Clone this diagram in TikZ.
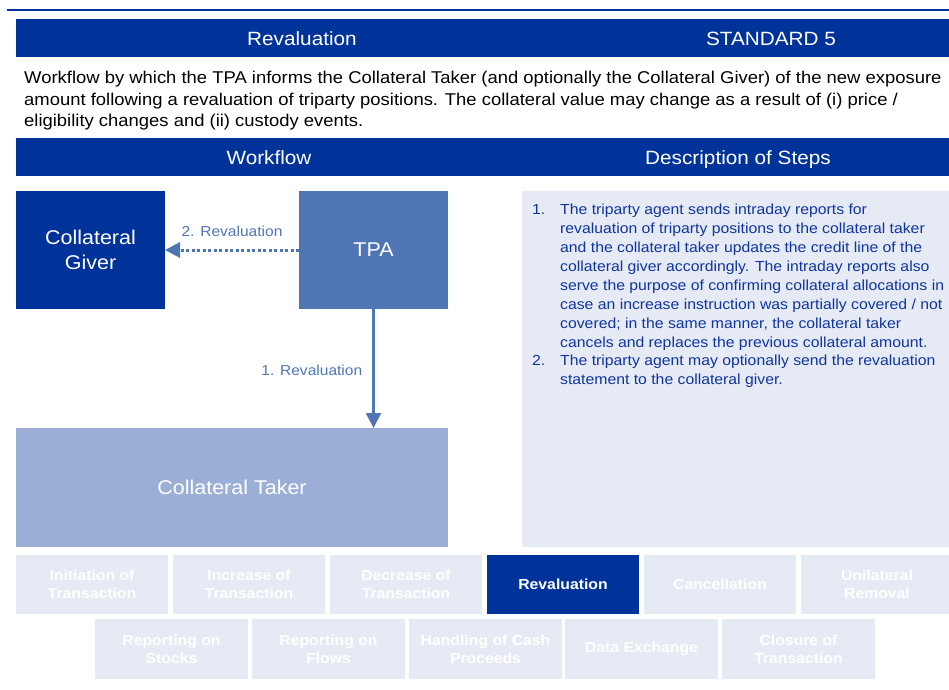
\documentclass[tikz,border=0pt]{standalone}
\usepackage{fontspec}
\setmainfont{Liberation Sans}[FakeStretch=1.08]
\usetikzlibrary{arrows.meta}
\definecolor{dkblue}{HTML}{003399}
\definecolor{midblue}{HTML}{4F75B5}
\definecolor{ltblue}{HTML}{9BAFD6}
\definecolor{paleblue}{HTML}{E5EAF4}
\definecolor{txtblue}{HTML}{1035A0}
\tikzset{
  bar/.style={fill=dkblue, draw=none, inner sep=0pt, outer sep=0pt, anchor=north west},
  bartext/.style={text=white, font=\fontsize{19.2}{22}\selectfont, inner sep=0pt, anchor=base},
  actor/.style={draw=none, inner sep=0pt, outer sep=0pt, anchor=north west, text=white, align=center, font=\fontsize{19.9}{25}\selectfont},
  flowlabel/.style={text=midblue, font=\fontsize{14.4}{17}\selectfont, inner sep=0pt},
  tab/.style={fill=paleblue, draw=none, inner sep=0pt, outer sep=0pt, anchor=north west, minimum width=152pt, minimum height=59pt, text=white, align=center, font=\bfseries\fontsize{14.6}{18}\selectfont},
  activetab/.style={tab, fill=dkblue},
  flowarrow/.style={draw=midblue, line width=2.5pt, -{Triangle[width=15pt,length=15pt]}},
}
\begin{document}
\begin{tikzpicture}[x=1pt,y=-1pt]
\useasboundingbox (0,0) rectangle (949,689);
% top rule
\coordinate (ruleL) at (7,10);
\coordinate (ruleR) at (949,10);
\draw[dkblue, line width=2.2pt] (ruleL) -- (ruleR);
% header bars
\node[bar, minimum width=933pt, minimum height=38pt] (hdr1) at (16,19) {};
\node[bartext] (hdr1a) at (302,45) {Revaluation};
\node[bartext] (hdr1b) at (771,45) {STANDARD 5};
\node[anchor=west, inner sep=0pt, align=left, font=\fontsize{17.07}{21.5}\selectfont] (intro) at (24,101)
 {Workflow by which the TPA informs the Collateral Taker (and optionally the Collateral Giver) of the new exposure\\
  amount following a revaluation of triparty positions. The collateral value may change as a result of (i) price /\\
  eligibility changes and (ii) custody events.};
\node[bar, minimum width=933pt, minimum height=38pt] (hdr2) at (16,138) {};
\node[bartext] (hdr2a) at (269,164) {Workflow};
\node[bartext] (hdr2b) at (738,164) {Description of Steps};
% actors
\node[actor, fill=dkblue, minimum width=149pt, minimum height=118pt] (giver) at (16,191) {Collateral\\Giver};
\node[actor, fill=midblue, minimum width=149pt, minimum height=118pt] (tpa) at (299,191) {TPA};
\node[actor, fill=ltblue, minimum width=432pt, minimum height=119pt] (taker) at (16,428) {Collateral Taker};
% arrows
\draw[flowarrow, line width=3pt, dash pattern=on 3pt off 2.5pt] (tpa.west) -- (giver.east)
  node[flowlabel, midway, yshift=19pt] (lab2) {2. Revaluation};
\draw[flowarrow] (tpa.south) -- (tpa.south |- taker.north)
  node[flowlabel, midway, anchor=east, xshift=-10pt, yshift=-2pt] (lab1) {1. Revaluation};
% description
\node[fill=paleblue, inner sep=0pt, outer sep=0pt, anchor=north west, minimum width=427pt, minimum height=356pt] (descbox) at (522,191) {};
\node[anchor=north west, inner sep=0pt, align=left, text=txtblue, font=\fontsize{14.6}{18.9}\selectfont] (desc) at (532,204)
 {\makebox[28pt][l]{1.}The triparty agent sends intraday reports for\\
  \hspace*{28pt}revaluation of triparty positions to the collateral taker\\
  \hspace*{28pt}and the collateral taker updates the credit line of the\\
  \hspace*{28pt}collateral giver accordingly. The intraday reports also\\
  \hspace*{28pt}serve the purpose of confirming collateral allocations in\\
  \hspace*{28pt}case an increase instruction was partially covered / not\\
  \hspace*{28pt}covered; in the same manner, the collateral taker\\
  \hspace*{28pt}cancels and replaces the previous collateral amount.\\
  \makebox[28pt][l]{2.}The triparty agent may optionally send the revaluation\\
  \hspace*{28pt}statement to the collateral giver.};
% tabs row 1
\node[tab] (t1) at (16,555) {Initiation of\\Transaction};
\node[tab] (t2) at (173,555) {Increase of\\Transaction};
\node[tab] (t3) at (330,555) {Decrease of\\Transaction};
\node[activetab] (t4) at (487,555) {Revaluation};
\node[tab] (t5) at (644,555) {Cancellation};
\node[tab] (t6) at (801,555) {Unilateral\\Removal};
% tabs row 2
\node[tab, minimum width=153pt, minimum height=60pt] (s1) at (95,619) {Reporting on\\Stocks};
\node[tab, minimum width=153pt, minimum height=60pt] (s2) at (252,619) {Reporting on\\Flows};
\node[tab, minimum width=153pt, minimum height=60pt] (s3) at (409,619) {Handling of Cash\\Proceeds};
\node[tab, minimum width=153pt, minimum height=60pt] (s4) at (565,619) {Data Exchange};
\node[tab, minimum width=153pt, minimum height=60pt] (s5) at (722,619) {Closure of\\Transaction};
\end{tikzpicture}
\end{document}
